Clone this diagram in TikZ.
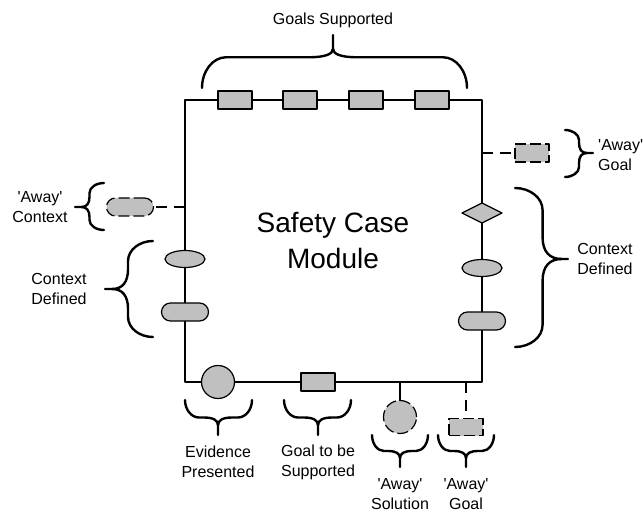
\documentclass[tikz,border=0pt]{standalone}
\usepackage{fontspec}
\newfontfamily\arial{Liberation Sans}
\usetikzlibrary{calc,shapes.geometric}
\definecolor{shade}{RGB}{192,192,192}
% #1 tip, #2 point, #3 tip, #4 arc radius, #5 mid depth, #6 stem start depth
\newcommand\drawbrace[6]{%
  \coordinate (bF) at ($(#1)!(#2)!(#3)$);
  \coordinate (bA) at ($(#1)+#5*(#2)-#5*(bF)$);
  \coordinate (bB) at ($(#3)+#5*(#2)-#5*(bF)$);
  \coordinate (bM) at ($(bF)+#5*(#2)-#5*(bF)$);
  \coordinate (bS) at ($(bF)+#6*(#2)-#6*(bF)$);
  \coordinate (bA1) at ($(bA)!#4!(bB)$);
  \coordinate (bA2) at ($(bM)!#4!(bA)$);
  \coordinate (bB1) at ($(bB)!#4!(bA)$);
  \coordinate (bB2) at ($(bM)!#4!(bB)$);
  \draw[brace] (#1) .. controls ($(#1)!0.55!(bA)$) and ($(bA1)!0.55!(bA)$) .. (bA1)
    -- (bA2) .. controls ($(bA2)!0.65!(bM)$) and ($(bS)!0.65!(bM)$) .. (bS) -- (#2);
  \draw[brace] (#3) .. controls ($(#3)!0.55!(bB)$) and ($(bB1)!0.55!(bB)$) .. (bB1)
    -- (bB2) .. controls ($(bB2)!0.65!(bM)$) and ($(bS)!0.65!(bM)$) .. (bS);
}
\begin{document}
\begin{tikzpicture}[x=1pt,y=-1pt,line join=round,
  frame/.style={line width=1.2pt},
  part/.style={draw,line width=1.2pt,fill=shade,inner sep=0pt,outer sep=0pt},
  goalbox/.style={part,rectangle,minimum width=34pt,minimum height=18pt},
  stadium/.style={part,rectangle,rounded corners=9pt,minimum width=47pt,minimum height=18pt},
  oval/.style={part,ellipse,minimum width=40pt,minimum height=17pt},
  disc/.style={part,circle,minimum size=33pt},
  rhomb/.style={part,diamond,aspect=2,minimum width=40pt,minimum height=20pt},
  awayshape/.style={dash pattern=on 11pt off 4pt},
  awayline/.style={dash pattern=on 11pt off 7pt},
  brace/.style={line width=2.4pt,line cap=round},
  lbl/.style={font=\arial\fontsize{16}{20}\selectfont,align=center,inner sep=0pt},
]
\useasboundingbox (0,0) rectangle (643,513);
% module frame
\coordinate (tl) at (185,100);
\coordinate (tr) at (482,100);
\coordinate (br) at (482,382);
\coordinate (bl) at (185,382);
\draw[frame] (tl) -- (tr) -- (br) -- (bl) -- cycle;
\node[font=\arial\fontsize{28}{36}\selectfont,align=center] (title) at (333,241) {Safety Case\\Module};
% top goals
\node[goalbox] (g1) at (235,100) {};
\node[goalbox] (g2) at (300,100) {};
\node[goalbox] (g3) at (366,100) {};
\node[goalbox] (g4) at (432,100) {};
% left side
\node[stadium,awayshape] (actx) at (130,207) {};
\coordinate (jc) at (185,207);
\draw[frame,awayline] (jc) -- (actx.east);
\node[oval] (lc1) at (185,259) {};
\node[stadium] (lc2) at (185,312) {};
% right side
\node[goalbox,awayshape] (agr) at (532,153) {};
\coordinate (jg) at (482,153);
\draw[frame,awayline] (jg) -- (agr.west);
\node[rhomb] (rc1) at (482,213) {};
\node[oval] (rc2) at (482,268) {};
\node[stadium] (rc3) at (482,321) {};
% bottom
\node[disc] (ev) at (218,382) {};
\node[goalbox] (gs) at (318,382) {};
\node[disc,awayshape] (asol) at (400,417) {};
\coordinate (js) at (400,382);
\draw[frame] (js) -- (asol.north);
\node[goalbox,awayshape,minimum height=17pt] (agb) at (466,427) {};
\coordinate (jb) at (466,382);
\draw[frame,awayline] (jb) -- (agb.north);
% braces
\coordinate (t1) at (202,88); \coordinate (tp) at (333,35); \coordinate (t2) at (467,88);
\drawbrace{t1}{tp}{t2}{24pt}{0.58}{0.74}
\coordinate (ac1) at (104,183); \coordinate (acp) at (75,207); \coordinate (ac2) at (104,230);
\drawbrace{ac1}{acp}{ac2}{10pt}{0.5}{0.78}
\coordinate (lc1a) at (153,241); \coordinate (lcp) at (105,289); \coordinate (lc2a) at (153,337);
\drawbrace{lc1a}{lcp}{lc2a}{20pt}{0.52}{0.85}
\coordinate (ag1) at (565,130); \coordinate (agp) at (593,153); \coordinate (ag2) at (565,177);
\drawbrace{ag1}{agp}{ag2}{10pt}{0.5}{0.78}
\coordinate (rc1a) at (515,188); \coordinate (rcp) at (568,259); \coordinate (rc2a) at (515,347);
\drawbrace{rc1a}{rcp}{rc2a}{22pt}{0.52}{0.88}
\coordinate (ev1) at (185,400); \coordinate (evp) at (218,435); \coordinate (ev2) at (252,400);
\drawbrace{ev1}{evp}{ev2}{14pt}{0.5}{0.72}
\coordinate (gs1) at (284,400); \coordinate (gsp) at (318,435); \coordinate (gs2) at (351,400);
\drawbrace{gs1}{gsp}{gs2}{14pt}{0.5}{0.72}
\coordinate (as1) at (372,435); \coordinate (asp) at (400,467); \coordinate (as2) at (428,435);
\drawbrace{as1}{asp}{as2}{12pt}{0.5}{0.72}
\coordinate (ab1) at (438,435); \coordinate (abp) at (466,467); \coordinate (ab2) at (494,435);
\drawbrace{ab1}{abp}{ab2}{12pt}{0.5}{0.72}
% labels
\node[lbl] (lgs) at (333,20) {Goals Supported};
\node[lbl] (lac) at (40,207) {\textquotesingle Away\textquotesingle\\Context};
\node[lbl] (llc) at (59,289) {Context\\Defined};
\node[lbl] (lrc) at (605,259) {Context\\Defined};
\node[lbl,anchor=west,align=left] (lag) at (598,155) {\textquotesingle Away\textquotesingle\\Goal};
\node[lbl] (lev) at (218,462) {Evidence\\Presented};
\node[lbl] (lgsb) at (318,462) {Goal to be\\Supported};
\node[lbl] (las) at (400,494) {\textquotesingle Away\textquotesingle\\Solution};
\node[lbl] (lab) at (466,494) {\textquotesingle Away\textquotesingle\\Goal};
\end{tikzpicture}
\end{document}
